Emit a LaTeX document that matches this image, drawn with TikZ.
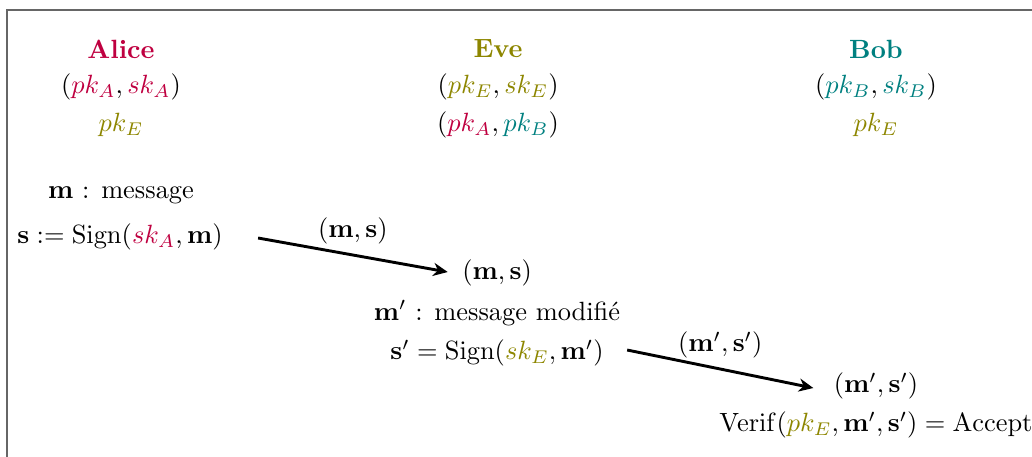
\documentclass[tikz,border=0pt]{standalone}
\usetikzlibrary{arrows.meta,calc}
\begin{document}
\begin{tikzpicture}[x=0.379pt,y=-0.379pt,
  lbl/.style={inner sep=0pt,font=\normalsize},
  msgarrow/.style={line width=1.1pt,-{Stealth[length=5.5pt,width=5pt]}},
  frame/.style={draw=black!60,line width=0.8pt}]
\useasboundingbox (0,0) rectangle (1032,456);
\begin{scope}
\clip (0,0) rectangle (1032,456);
\draw[frame] (7,10) rectangle (1060,480);
\end{scope}
% Alice
\node[lbl,text=purple] (alice) at (121,49) {\textbf{Alice}};
\node[lbl] (akeys) at (121,87) {$(\textcolor{purple}{pk_A},\textcolor{purple}{sk_A})$};
\node[lbl] (apkE) at (121,125) {$\textcolor{olive}{pk_E}$};
% Eve
\node[lbl,text=olive] (eve) at (498,49) {\textbf{Eve}};
\node[lbl] (ekeys) at (498,87) {$(\textcolor{olive}{pk_E},\textcolor{olive}{sk_E})$};
\node[lbl] (epks) at (498,125) {$(\textcolor{purple}{pk_A},\textcolor{teal}{pk_B})$};
% Bob
\node[lbl,text=teal] (bob) at (876,49) {\textbf{Bob}};
\node[lbl] (bkeys) at (876,87) {$(\textcolor{teal}{pk_B},\textcolor{teal}{sk_B})$};
\node[lbl] (bpkE) at (876,125) {$\textcolor{olive}{pk_E}$};
% Alice signs
\node[lbl] (mA) at (121,195) {$\mathbf{m}$ : message};
\node[lbl] (sA) at (120,237) {$\mathbf{s} := \mathrm{Sign}(\textcolor{purple}{sk_A},\mathbf{m})$};
% Eve receives and modifies
\node[lbl] (msE) at (497,273) {$(\mathbf{m},\mathbf{s})$};
\node[lbl] (mE) at (497,313) {$\mathbf{m}'$ : message modifi\'e};
\node[lbl] (sE) at (497,353) {$\mathbf{s}' = \mathrm{Sign}(\textcolor{olive}{sk_E},\mathbf{m}')$};
% Bob receives
\node[lbl] (msB) at (876,386) {$(\mathbf{m}',\mathbf{s}')$};
\node[lbl] (vB) at (876,425) {$\mathrm{Verif}(\textcolor{olive}{pk_E},\mathbf{m}',\mathbf{s}') = \mathrm{Accept}$};
% arrows
\draw[msgarrow] ($(sA.east)+(35,1)$) -- ($(msE.west)+(-14,-1)$)
  node[midway,above=3.5pt,inner sep=0pt] (l1) {$(\mathbf{m},\mathbf{s})$};
\draw[msgarrow] ($(sE.east)+(23,-3)$) -- ($(msB.west)+(-20,2)$)
  node[midway,above=3.5pt,inner sep=0pt] (l2) {$(\mathbf{m}',\mathbf{s}')$};
\end{tikzpicture}
\end{document}
